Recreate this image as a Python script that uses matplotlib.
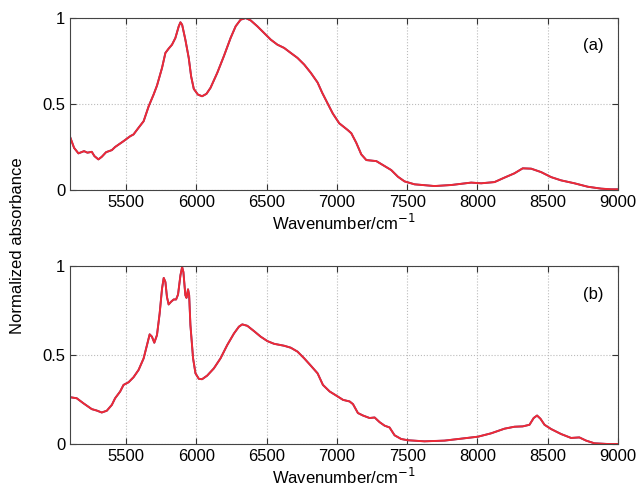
import matplotlib
matplotlib.use("Agg")
import matplotlib.pyplot as plt
import numpy as np

plt.rcParams['font.family'] = ['Liberation Sans', 'DejaVu Sans']

# spectrum (a)
wn_a = [5100, 5129, 5160, 5200, 5224, 5255, 5274, 5302, 5326, 5357, 5398, 5421, 5481, 5529,
        5552, 5588, 5624, 5660, 5695, 5719, 5755, 5779, 5802, 5826, 5850, 5874, 5886, 5898,
        5921, 5945, 5962, 5981, 6010, 6040, 6071, 6100, 6148, 6195, 6243, 6279, 6314, 6350,
        6386, 6433, 6481, 6529, 6576, 6624, 6671, 6719, 6767, 6814, 6862, 6895, 6933, 6970,
        7016, 7076, 7102, 7137, 7173, 7209, 7280, 7327, 7386, 7434, 7481, 7552, 7694, 7813,
        7955, 8026, 8121, 8192, 8263, 8322, 8382, 8453, 8524, 8595, 8690, 8785, 8879, 8950, 9000]
abs_a = [0.31, 0.245, 0.213, 0.226, 0.217, 0.222, 0.197, 0.178, 0.193, 0.22, 0.232, 0.25, 0.284, 0.313,
         0.323, 0.362, 0.40, 0.487, 0.555, 0.607, 0.71, 0.797, 0.822, 0.845, 0.884, 0.952, 0.975, 0.961,
         0.874, 0.768, 0.661, 0.588, 0.555, 0.545, 0.559, 0.594, 0.681, 0.778, 0.884, 0.952, 0.99, 1.0,
         0.986, 0.952, 0.913, 0.874, 0.845, 0.826, 0.797, 0.768, 0.729, 0.681, 0.625, 0.565, 0.504, 0.445,
         0.388, 0.349, 0.33, 0.275, 0.207, 0.174, 0.168, 0.145, 0.116, 0.077, 0.05, 0.033, 0.023, 0.029,
         0.043, 0.039, 0.046, 0.072, 0.097, 0.126, 0.124, 0.104, 0.075, 0.056, 0.039, 0.019, 0.008, 0.004, 0.004]

# spectrum (b)
wn_b = [5100, 5148, 5195, 5255, 5290, 5326, 5362, 5398, 5421, 5457, 5481, 5517, 5552, 5588,
        5624, 5648, 5667, 5683, 5700, 5719, 5738, 5755, 5767, 5779, 5790, 5802, 5819, 5838,
        5855, 5869, 5886, 5898, 5907, 5921, 5929, 5940, 5948, 5957, 5976, 5993, 6017, 6040,
        6076, 6124, 6171, 6219, 6267, 6302, 6326, 6362, 6410, 6457, 6505, 6552, 6624, 6671,
        6719, 6767, 6814, 6862, 6900, 6948, 6995, 7043, 7090, 7114, 7149, 7185, 7232, 7268,
        7303, 7339, 7374, 7410, 7457, 7505, 7623, 7765, 7884, 8003, 8097, 8192, 8263, 8322,
        8370, 8400, 8424, 8448, 8477, 8524, 8595, 8666, 8725, 8773, 8832, 8927, 9000]
abs_b = [0.263, 0.257, 0.229, 0.196, 0.188, 0.177, 0.187, 0.22, 0.257, 0.295, 0.332, 0.347, 0.375, 0.416,
         0.481, 0.556, 0.616, 0.603, 0.569, 0.612, 0.733, 0.873, 0.933, 0.91, 0.826, 0.784, 0.799, 0.812,
         0.812, 0.84, 0.948, 0.994, 0.966, 0.836, 0.821, 0.869, 0.836, 0.668, 0.481, 0.397, 0.366, 0.364,
         0.384, 0.425, 0.481, 0.556, 0.621, 0.659, 0.672, 0.664, 0.634, 0.603, 0.578, 0.563, 0.552, 0.541,
         0.519, 0.481, 0.44, 0.397, 0.332, 0.295, 0.272, 0.248, 0.239, 0.224, 0.174, 0.16, 0.146, 0.149,
         0.123, 0.103, 0.093, 0.049, 0.028, 0.021, 0.015, 0.019, 0.03, 0.041, 0.06, 0.086, 0.097, 0.099,
         0.108, 0.146, 0.16, 0.142, 0.108, 0.084, 0.056, 0.034, 0.037, 0.019, 0.004, 0.0, 0.0]

xticks = [5500, 6000, 6500, 7000, 7500, 8000, 8500, 9000]
yticks = [0, 0.5, 1]
ytick_labels = ['0', '0.5', '1']

fig = plt.figure(figsize=(6.38, 4.92), dpi=100)
ax_a = fig.add_axes([70 / 638, 1 - 190 / 492, 548 / 638, 172 / 492])
ax_b = fig.add_axes([70 / 638, 1 - 444 / 492, 548 / 638, 178 / 492])

for ax, wn, ab, tag in [(ax_a, wn_a, abs_a, '(a)'), (ax_b, wn_b, abs_b, '(b)')]:
    # blue trace sits underneath the red one and barely shows
    ax.plot(wn, ab, color='#3a3a9a', lw=1.3)
    ax.plot(wn, ab, color='#ee2a35', lw=1.4)
    ax.set_xlim(5100, 9000)
    ax.set_ylim(0, 1)
    ax.set_xticks(xticks)
    ax.set_yticks(yticks)
    ax.set_yticklabels(ytick_labels)
    ax.tick_params(direction='in', top=True, right=True, labelsize=12, length=4, color='#333333')
    ax.grid(True, linestyle=':', color='#bbbbbb', lw=0.8)
    for s in ax.spines.values():
        s.set_color('#444444')
    ax.set_xlabel('Wavenumber/cm$^{-1}$', fontsize=12, labelpad=2)
    ax.text(0.955, 0.84, tag, transform=ax.transAxes, ha='center', va='center', fontsize=12)

fig.text(18 / 638, 0.5, 'Normalized absorbance', rotation=90, ha='center', va='center', fontsize=12)

fig.savefig('out.png', dpi=100)
